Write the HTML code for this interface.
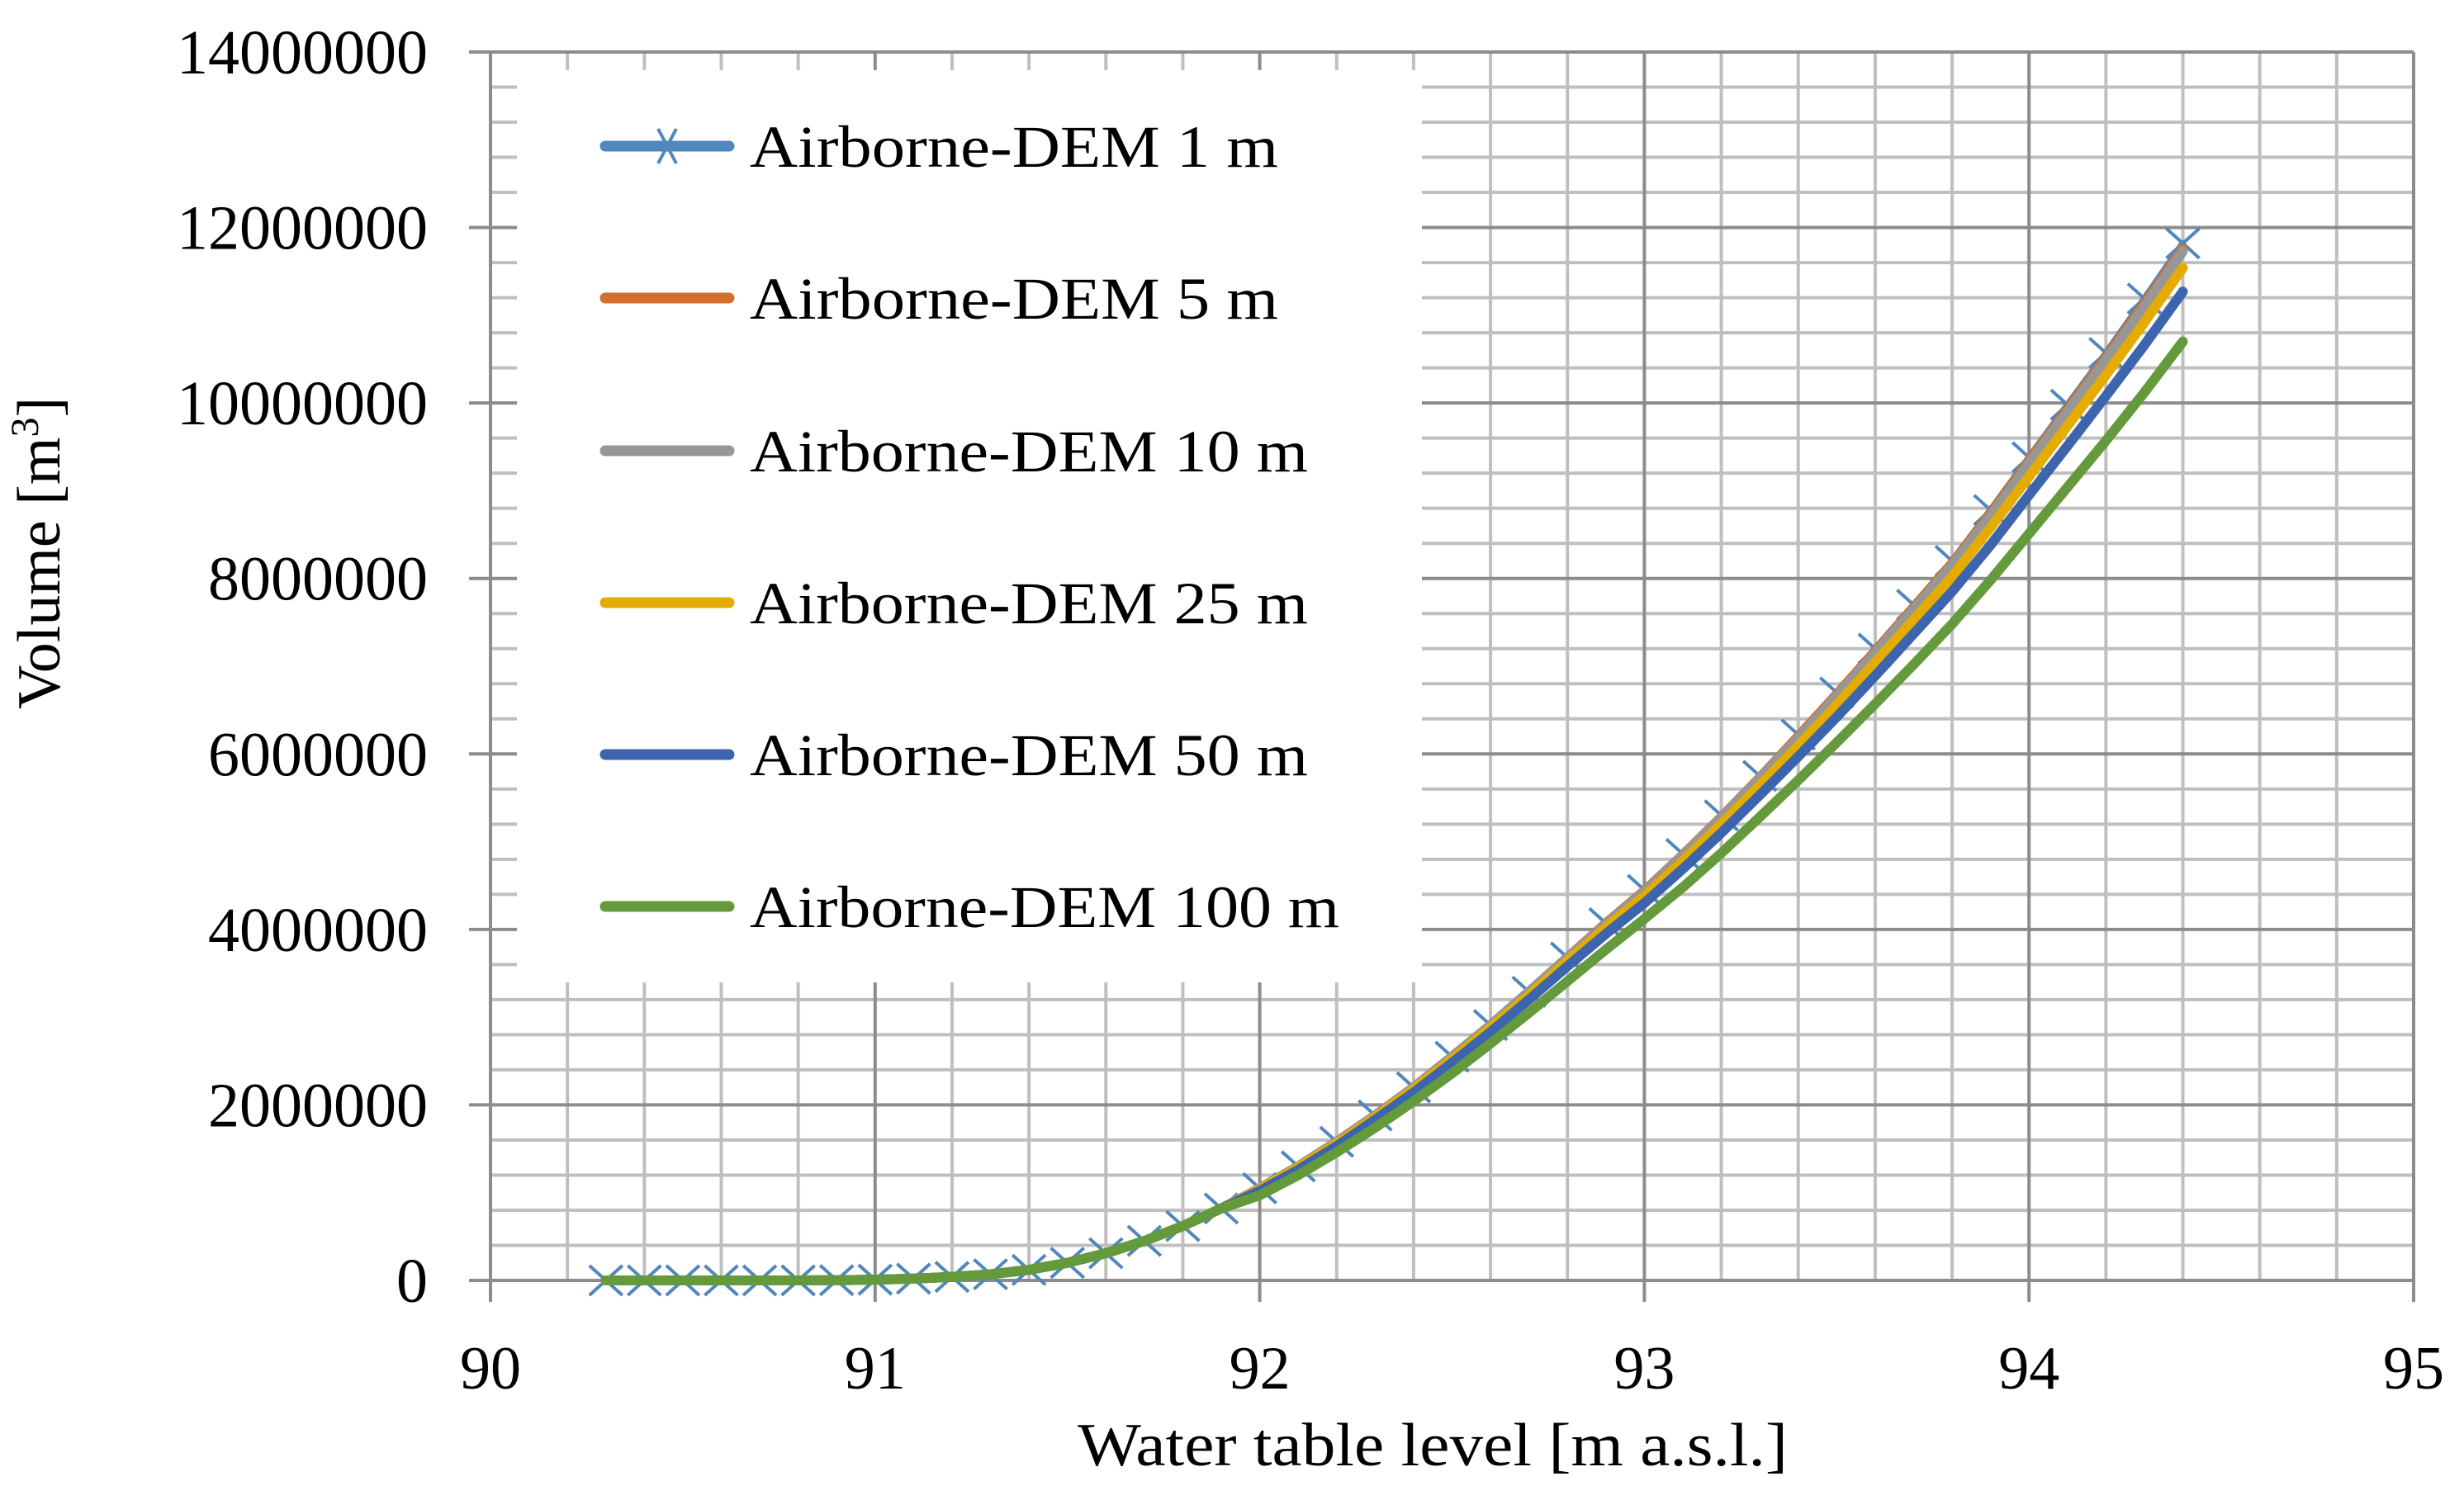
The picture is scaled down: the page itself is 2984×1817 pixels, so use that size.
<!DOCTYPE html>
<html><head><meta charset="utf-8"><style>
html,body{margin:0;padding:0;background:#fff;}
svg{display:block;}
text{font-family:"Liberation Serif",serif;fill:#000;}
</style></head><body>
<svg id="chart" width="2984" height="1817" viewBox="0 0 2984 1817" xmlns="http://www.w3.org/2000/svg">
<g id="grid"></g>
<g id="axes"></g>
<rect x="626" y="85" width="1096" height="1105" fill="#fff"/>
<g id="series"></g>
<g id="legend"></g>
<text x="1735" y="1775" font-size="74" text-anchor="middle" textLength="860" lengthAdjust="spacingAndGlyphs">Water table level [m a.s.l.]</text>
<text transform="translate(72,670) rotate(-90)" font-size="74" text-anchor="middle">Volume [m<tspan font-size="48" dy="-26">3</tspan><tspan dy="26">]</tspan></text>
</svg>
<script>
const xLevels = [90.3,90.4,90.5,90.6,90.7,90.8,90.9,91.0,91.1,91.2,91.3,91.4,91.5,91.6,91.7,91.8,91.9,92.0,92.1,92.2,92.3,92.4,92.5,92.6,92.7,92.8,92.9,93.0,93.1,93.2,93.3,93.4,93.5,93.6,93.7,93.8,93.9,94.0,94.1,94.2,94.3,94.4];
const low = [0,0,0,0,0,0,0.002,0.008,0.02,0.04,0.07,0.12,0.2,0.31,0.45,0.62,0.82];
const dem1 = low.concat([1.05,1.3,1.58,1.88,2.2,2.55,2.91,3.29,3.68,4.07,4.45,4.86,5.3,5.75,6.22,6.7,7.2,7.7,8.2,8.78,9.38,9.98,10.57,11.19,11.82]);
const dem5 = low.concat([1.05,1.3,1.58,1.88,2.2,2.55,2.91,3.29,3.68,4.07,4.44,4.85,5.28,5.73,6.2,6.68,7.17,7.67,8.17,8.74,9.34,9.93,10.52,11.13,11.76]);
const dem10 = low.concat([1.05,1.3,1.58,1.88,2.2,2.55,2.91,3.29,3.68,4.06,4.43,4.84,5.27,5.72,6.18,6.66,7.15,7.65,8.15,8.71,9.31,9.9,10.49,11.1,11.73]);
const dem25 = low.concat([1.04,1.29,1.56,1.86,2.18,2.52,2.88,3.25,3.64,4.02,4.38,4.78,5.2,5.64,6.09,6.56,7.04,7.53,8.02,8.58,9.16,9.74,10.32,10.92,11.54]);
const dem50 = low.concat([1.02,1.26,1.53,1.83,2.14,2.48,2.83,3.2,3.58,3.95,4.3,4.69,5.1,5.53,5.97,6.42,6.89,7.37,7.85,8.38,8.95,9.51,10.08,10.66,11.27]);
const dem100 = low.concat([0.97,1.2,1.46,1.74,2.04,2.36,2.7,3.05,3.41,3.77,4.12,4.48,4.87,5.28,5.7,6.13,6.57,7.02,7.48,7.98,8.51,9.04,9.57,10.12,10.7]);
const seriesNames = ["Airborne-DEM 1 m","Airborne-DEM 5 m","Airborne-DEM 10 m","Airborne-DEM 25 m","Airborne-DEM 50 m","Airborne-DEM 100 m"];
const xTicks = [90,91,92,93,94,95];
const yTicks = [0,2000000,4000000,6000000,8000000,10000000,12000000,14000000];

const NS="http://www.w3.org/2000/svg";
const X0=594,X1=2923,Y0=1551,Y1=63;
const xMin=90,xMax=95,yMin=0,yMax=14000000;
function sx(v){return X0+(v-xMin)/(xMax-xMin)*(X1-X0);}
function sy(v){return Y0-(v-yMin)/(yMax-yMin)*(Y0-Y1);}
function mk(tag,attrs,parent){const e=document.createElementNS(NS,tag);for(const k in attrs)e.setAttribute(k,attrs[k]);parent.appendChild(e);return e;}
const grid=document.getElementById('grid'),axes=document.getElementById('axes'),ser=document.getElementById('series'),leg=document.getElementById('legend');

for(let i=1;i<25;i++){ if(i%5===0)continue; const v=xMin+i*0.2;
  const l=mk('line',{x1:sx(v),x2:sx(v),y1:Y1,y2:Y0,stroke:'#bfbfbf','stroke-width':4},grid);
   }
for(let i=1;i<35;i++){ if(i%5===0)continue; const v=i*400000;
  const l=mk('line',{x1:X0,x2:X1,y1:sy(v),y2:sy(v),stroke:'#bfbfbf','stroke-width':4},grid);
   }
xTicks.forEach(v=>{
  const l=mk('line',{x1:sx(v),x2:sx(v),y1:Y1,y2:Y0+26,stroke:'#8c8c8c','stroke-width':4},grid);
   
  const t=mk('text',{x:sx(v),y:1682,'font-size':74,'text-anchor':'middle'},axes); t.textContent=v;
   
});
yTicks.forEach(v=>{
  const l=mk('line',{x1:X0-26,x2:X1,y1:sy(v),y2:sy(v),stroke:'#8c8c8c','stroke-width':4},grid);
   
  const t=mk('text',{x:518,y:sy(v)+26,'font-size':76,'text-anchor':'end'},axes); t.textContent=v;
   
});

const colors=['#5087bd','#d0702c','#979797','#e5ac00','#3d65ae','#659a3c'];
const all=[dem1,dem5,dem10,dem25,dem50,dem100];
all.forEach((arr,si)=>{
  const d=arr.map((v,i)=>(i?'L':'M')+sx(xLevels[i]).toFixed(1)+' '+sy(v*1e6).toFixed(1)).join(' ');
  const p=mk('path',{d:d,fill:'none',stroke:colors[si],'stroke-width':si===0?8:12,'stroke-linecap':'round','stroke-linejoin':'round'},ser);
   
  if(si===0){
    arr.forEach((v,i)=>{const cx=sx(xLevels[i]),cy=sy(v*1e6);
      const m=mk('path',{d:`M${cx-20} ${cy-18}L${cx+20} ${cy+18}M${cx+20} ${cy-18}L${cx-20} ${cy+18}`,stroke:colors[0],'stroke-width':4,fill:'none'},ser);
       });
  }
});
const ly=[177,361,546,730,914,1098];
const lw=[640,640,676,676,676,714];
seriesNames.forEach((n,i)=>{
  const l=mk('line',{x1:733,x2:883,y1:ly[i],y2:ly[i],stroke:colors[i],'stroke-width':13,'stroke-linecap':'round'},leg);
   
  if(i===0){const c=808,y=ly[i];
    const m=mk('path',{d:`M${c-11} ${y-21}L${c+11} ${y+21}M${c+11} ${y-21}L${c-11} ${y+21}`,stroke:colors[0],'stroke-width':4,fill:'none'},leg);
     }
  const t=mk('text',{x:908,y:ly[i]+25,'font-size':72,textLength:lw[i],lengthAdjust:'spacingAndGlyphs'},leg); t.textContent=n;
   
});
</script>
</body></html>
